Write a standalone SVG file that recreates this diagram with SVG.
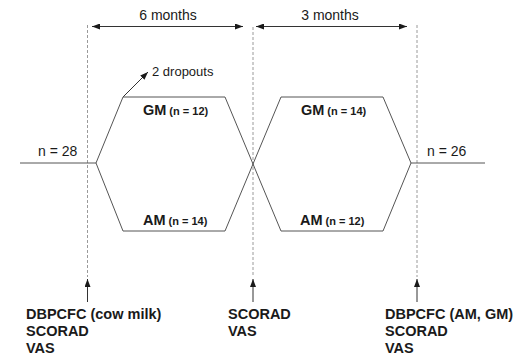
<svg xmlns="http://www.w3.org/2000/svg" width="516" height="360" viewBox="0 0 516 360">
<style>
text{font-family:"Liberation Sans",Arial,sans-serif;fill:#1a1a1a}
.t{font-size:14px}
.b{font-size:14.5px;font-weight:bold}
.s{font-size:11px;font-weight:bold}
.d{font-size:13px}
.dash{stroke:#9a9a9a;stroke-width:1;stroke-dasharray:3,2;fill:none}
.ln{stroke:#555;stroke-width:1;fill:none}
.ar{stroke:#333;stroke-width:1;fill:none}
</style>
<defs>
<marker id="ah" viewBox="0 0 8 6" refX="8" refY="3" markerWidth="8" markerHeight="6" markerUnits="userSpaceOnUse" orient="auto-start-reverse">
<path d="M0,0 L8,3 L0,6 Z" fill="#1a1a1a"/>
</marker>
</defs>
<g id="connectors">
<line class="dash" x1="87.5" y1="25" x2="87.5" y2="277"/>
<line class="dash" x1="253" y1="27" x2="253" y2="277"/>
<line class="dash" x1="417" y1="25" x2="417" y2="277"/>
<line class="ar" x1="92" y1="26.5" x2="243" y2="26.5" marker-start="url(#ah)" marker-end="url(#ah)"/>
<line class="ar" x1="256" y1="26.5" x2="407" y2="26.5" marker-start="url(#ah)" marker-end="url(#ah)"/>
<line class="ar" x1="87.5" y1="302" x2="87.5" y2="279" marker-end="url(#ah)"/>
<line class="ar" x1="253" y1="302" x2="253" y2="279" marker-end="url(#ah)"/>
<line class="ar" x1="417" y1="302" x2="417" y2="279" marker-end="url(#ah)"/>
<line class="ar" x1="123" y1="97" x2="148" y2="72" marker-end="url(#ah)"/>
<path class="ln" d="M20,163 L96,163 L123,97 L225,97 L281,231 L383,231 L411,163 L485,163"/>
<path class="ln" d="M96,163 L123,231 L225,231 L281,97 L383,97 L411,163"/>
</g>
<g id="period1"><text class="t" x="168" y="20" text-anchor="middle">6 months</text></g>
<g id="period2"><text class="t" x="330" y="20" text-anchor="middle">3 months</text></g>
<g id="dropouts"><text class="d" x="152" y="76">2 dropouts</text></g>
<g id="start"><text class="t" x="38" y="156">n = 28</text></g>
<g id="end"><text class="t" x="427" y="156">n = 26</text></g>
<g id="gm1"><text x="143" y="115"><tspan class="b">GM</tspan><tspan class="s" dx="3">(n = 12)</tspan></text></g>
<g id="am1"><text x="143" y="225"><tspan class="b">AM</tspan><tspan class="s" dx="3">(n = 14)</tspan></text></g>
<g id="gm2"><text x="301" y="115"><tspan class="b">GM</tspan><tspan class="s" dx="3">(n = 14)</tspan></text></g>
<g id="am2"><text x="300" y="225"><tspan class="b">AM</tspan><tspan class="s" dx="3">(n = 12)</tspan></text></g>
<g id="assess1">
<text class="b" x="26" y="319">DBPCFC (cow milk)</text>
<text class="b" x="26" y="336">SCORAD</text>
<text class="b" x="26" y="353">VAS</text>
</g>
<g id="assess2">
<text class="b" x="228" y="319">SCORAD</text>
<text class="b" x="228" y="336">VAS</text>
</g>
<g id="assess3">
<text class="b" x="385" y="319">DBPCFC (AM, GM)</text>
<text class="b" x="385" y="336">SCORAD</text>
<text class="b" x="385" y="353">VAS</text>
</g>
</svg>
